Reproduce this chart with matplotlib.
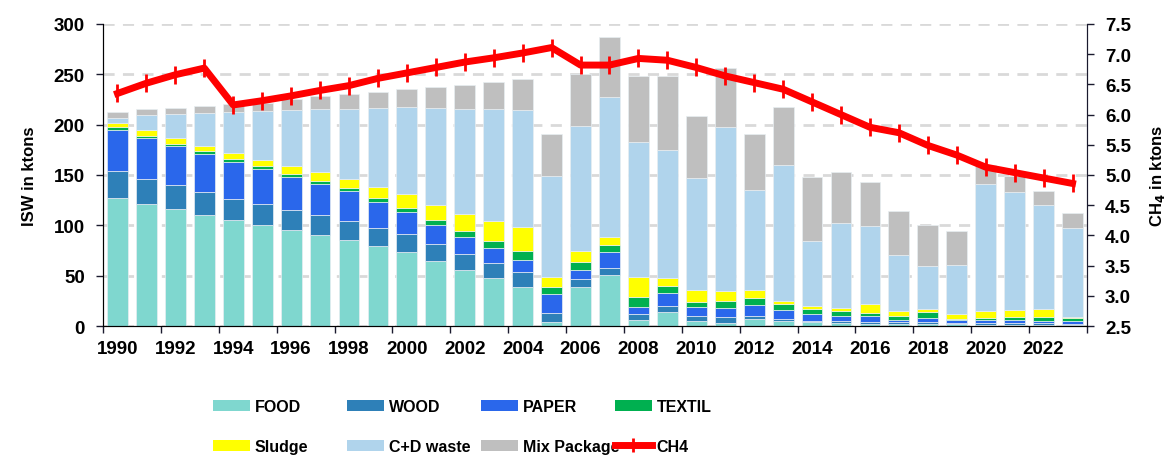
import matplotlib
matplotlib.use('Agg')
import matplotlib.pyplot as plt
from matplotlib.patches import Patch
from matplotlib.lines import Line2D
import numpy as np

plt.rcParams['font.family'] = ['Liberation Sans', 'DejaVu Sans']
plt.rcParams['font.weight'] = 'bold'

years = list(range(1990, 2024))

food = [127, 121.5, 116, 110, 105, 100, 95, 90, 85, 79.5, 74, 64.5, 56, 47.5, 39, 3.5, 39, 51,
        5.5, 14, 5, 3.3, 7, 4.6, 3.7, 3, 2.3, 2, 2, 2, 1.3, 1.3, 1.3, 1.3]
wood = [27, 25, 24, 23, 21.5, 21, 20, 20, 19, 17.5, 17, 16.6, 16, 15, 14.5, 9.5, 7.5, 6.5,
        6, 6, 5, 5.5, 3.3, 2.4, 1.3, 2, 1.7, 1.7, 1.7, 1, 1.7, 1.7, 1.7, 1]
paper = [41, 40, 38.5, 37.5, 36, 34.5, 33, 31, 30, 26.5, 22.5, 19.5, 16, 14.5, 12, 19, 9, 16,
         7, 13, 8.5, 8.7, 10.2, 8.6, 7, 5.2, 6.2, 2.6, 4.2, 3, 3, 3.3, 2.3, 3]
textil = [3, 2.6, 2.6, 3, 3, 3, 3, 3, 3, 3.4, 3.7, 5, 6, 7.5, 9.5, 7, 8, 7,
          10.5, 6.5, 5.5, 7.2, 7, 6, 5.3, 4.7, 3, 4, 5.7, 1.3, 1.6, 2.6, 4, 3]
sludge = [4, 5.3, 5.4, 5, 6, 6.5, 7.5, 8.5, 9.5, 11, 13.6, 15, 17.5, 20, 23, 9.5, 11.5, 8,
          20, 8, 11.5, 10, 8.2, 3.3, 2.7, 2.7, 8.3, 4.4, 3.6, 4.6, 7.6, 7.3, 8, 0.3]
cd_waste = [5, 15, 24, 33, 41, 49, 56, 63, 69.5, 78.5, 86.4, 96, 104.5, 111, 117, 101, 123.5, 139,
            133.5, 127, 111.5, 162.5, 99, 135, 64, 85, 78, 55.6, 42, 48.7, 126, 117, 102.7, 89]
mix_package = [6, 6, 6.5, 7, 8, 8, 10.5, 12.5, 14, 16, 18, 21, 23, 27, 30, 41, 51.5, 60,
               66, 74, 62, 59.5, 56, 57.6, 64, 50, 44, 43.7, 41, 33.4, 19, 16, 14, 15]
ch4 = [6.35, 6.52, 6.66, 6.77, 6.16, 6.23, 6.31, 6.40, 6.48, 6.60, 6.69, 6.78, 6.87, 6.94, 7.02,
       7.11, 6.82, 6.82, 6.93, 6.90, 6.78, 6.64, 6.53, 6.42, 6.21, 6.00, 5.79, 5.70, 5.49, 5.33,
       5.13, 5.04, 4.95, 4.86]

series = [
    ('FOOD', food, '#7fd7cf'),
    ('WOOD', wood, '#2e80b8'),
    ('PAPER', paper, '#2a67eb'),
    ('TEXTIL', textil, '#00b050'),
    ('Sludge', sludge, '#ffff00'),
    ('C+D waste', cd_waste, '#b0d4ec'),
    ('Mix Package', mix_package, '#bfbfbf'),
]

fig = plt.figure(figsize=(11.75, 4.56), dpi=100)
ax = fig.add_axes([103 / 1175, (456 - 327) / 456, (1087 - 103) / 1175, 302 / 456])

x = np.arange(len(years))
bottom = np.zeros(len(years))
handles = {}
for name, vals, col in series:
    ax.bar(x, vals, bottom=bottom, width=0.72, color=col, edgecolor='#e8eef2', linewidth=0.5)
    bottom += np.array(vals)
    handles[name] = Patch(facecolor=col, edgecolor='none')

ax.set_xlim(-0.5, len(years) - 0.5)
ax.set_ylim(0, 300)
ax.set_yticks(range(0, 301, 50))
ax.yaxis.grid(True, linestyle=(0, (4, 3)), color='#d9d9d9', linewidth=2)
ax.set_axisbelow(True)
ax.set_xticks(x[::2])
ax.set_xticklabels([str(y) for y in years[::2]])
ax.set_xticks(np.arange(-0.5, len(years), 2), minor=True)
ax.tick_params(axis='x', which='major', length=0, labelsize=13.5, pad=10)
ax.tick_params(axis='x', which='minor', length=5, width=1, color='#1a1a2e')
ax.tick_params(axis='y', length=5, width=1, color='#1a1a2e', labelsize=13.5, pad=8)
ax.set_ylabel('ISW in ktons', fontsize=12, fontweight='bold', labelpad=12)
for s in ['left', 'bottom', 'right']:
    ax.spines[s].set_color('#1a1a2e')
ax.spines['top'].set_visible(False)

ax2 = ax.twinx()
ax2.plot(x, ch4, color='#ff0000', linewidth=5, marker='|', markersize=13, markeredgewidth=2)
ax2.set_ylim(2.5, 7.5)
ax2.set_yticks(np.arange(2.5, 7.51, 0.5))
ax2.set_yticklabels([f'{v:.1f}' for v in np.arange(2.5, 7.51, 0.5)])
ax2.tick_params(axis='y', length=5, width=1, color='#1a1a2e', labelsize=13.5, pad=8)
ax2.set_ylabel('CH$_4$ in ktons', fontsize=12, fontweight='bold', labelpad=12)
ax2.spines['top'].set_visible(False)
ax2.spines['right'].set_color('#1a1a2e')

ch4_handle = Line2D([], [], color='#ff0000', linewidth=5, marker='|', markersize=10, markeredgewidth=2)
handles['CH4'] = ch4_handle

columns = [('FOOD', 'Sludge'), ('WOOD', 'C+D waste'), ('PAPER', 'Mix Package'), ('TEXTIL', 'CH4')]
col_x = [205, 339, 473, 607]
for cx, names in zip(col_x, columns):
    fig.legend([handles[n] for n in names], list(names), loc='upper left',
               bbox_to_anchor=(cx / 1175, 1 - 392 / 456), frameon=False,
               prop={'size': 11.5, 'weight': 'bold'}, handlelength=2.3,
               handletextpad=0.3, labelspacing=1.55, borderpad=0)

fig.savefig('out.png', dpi=100)
